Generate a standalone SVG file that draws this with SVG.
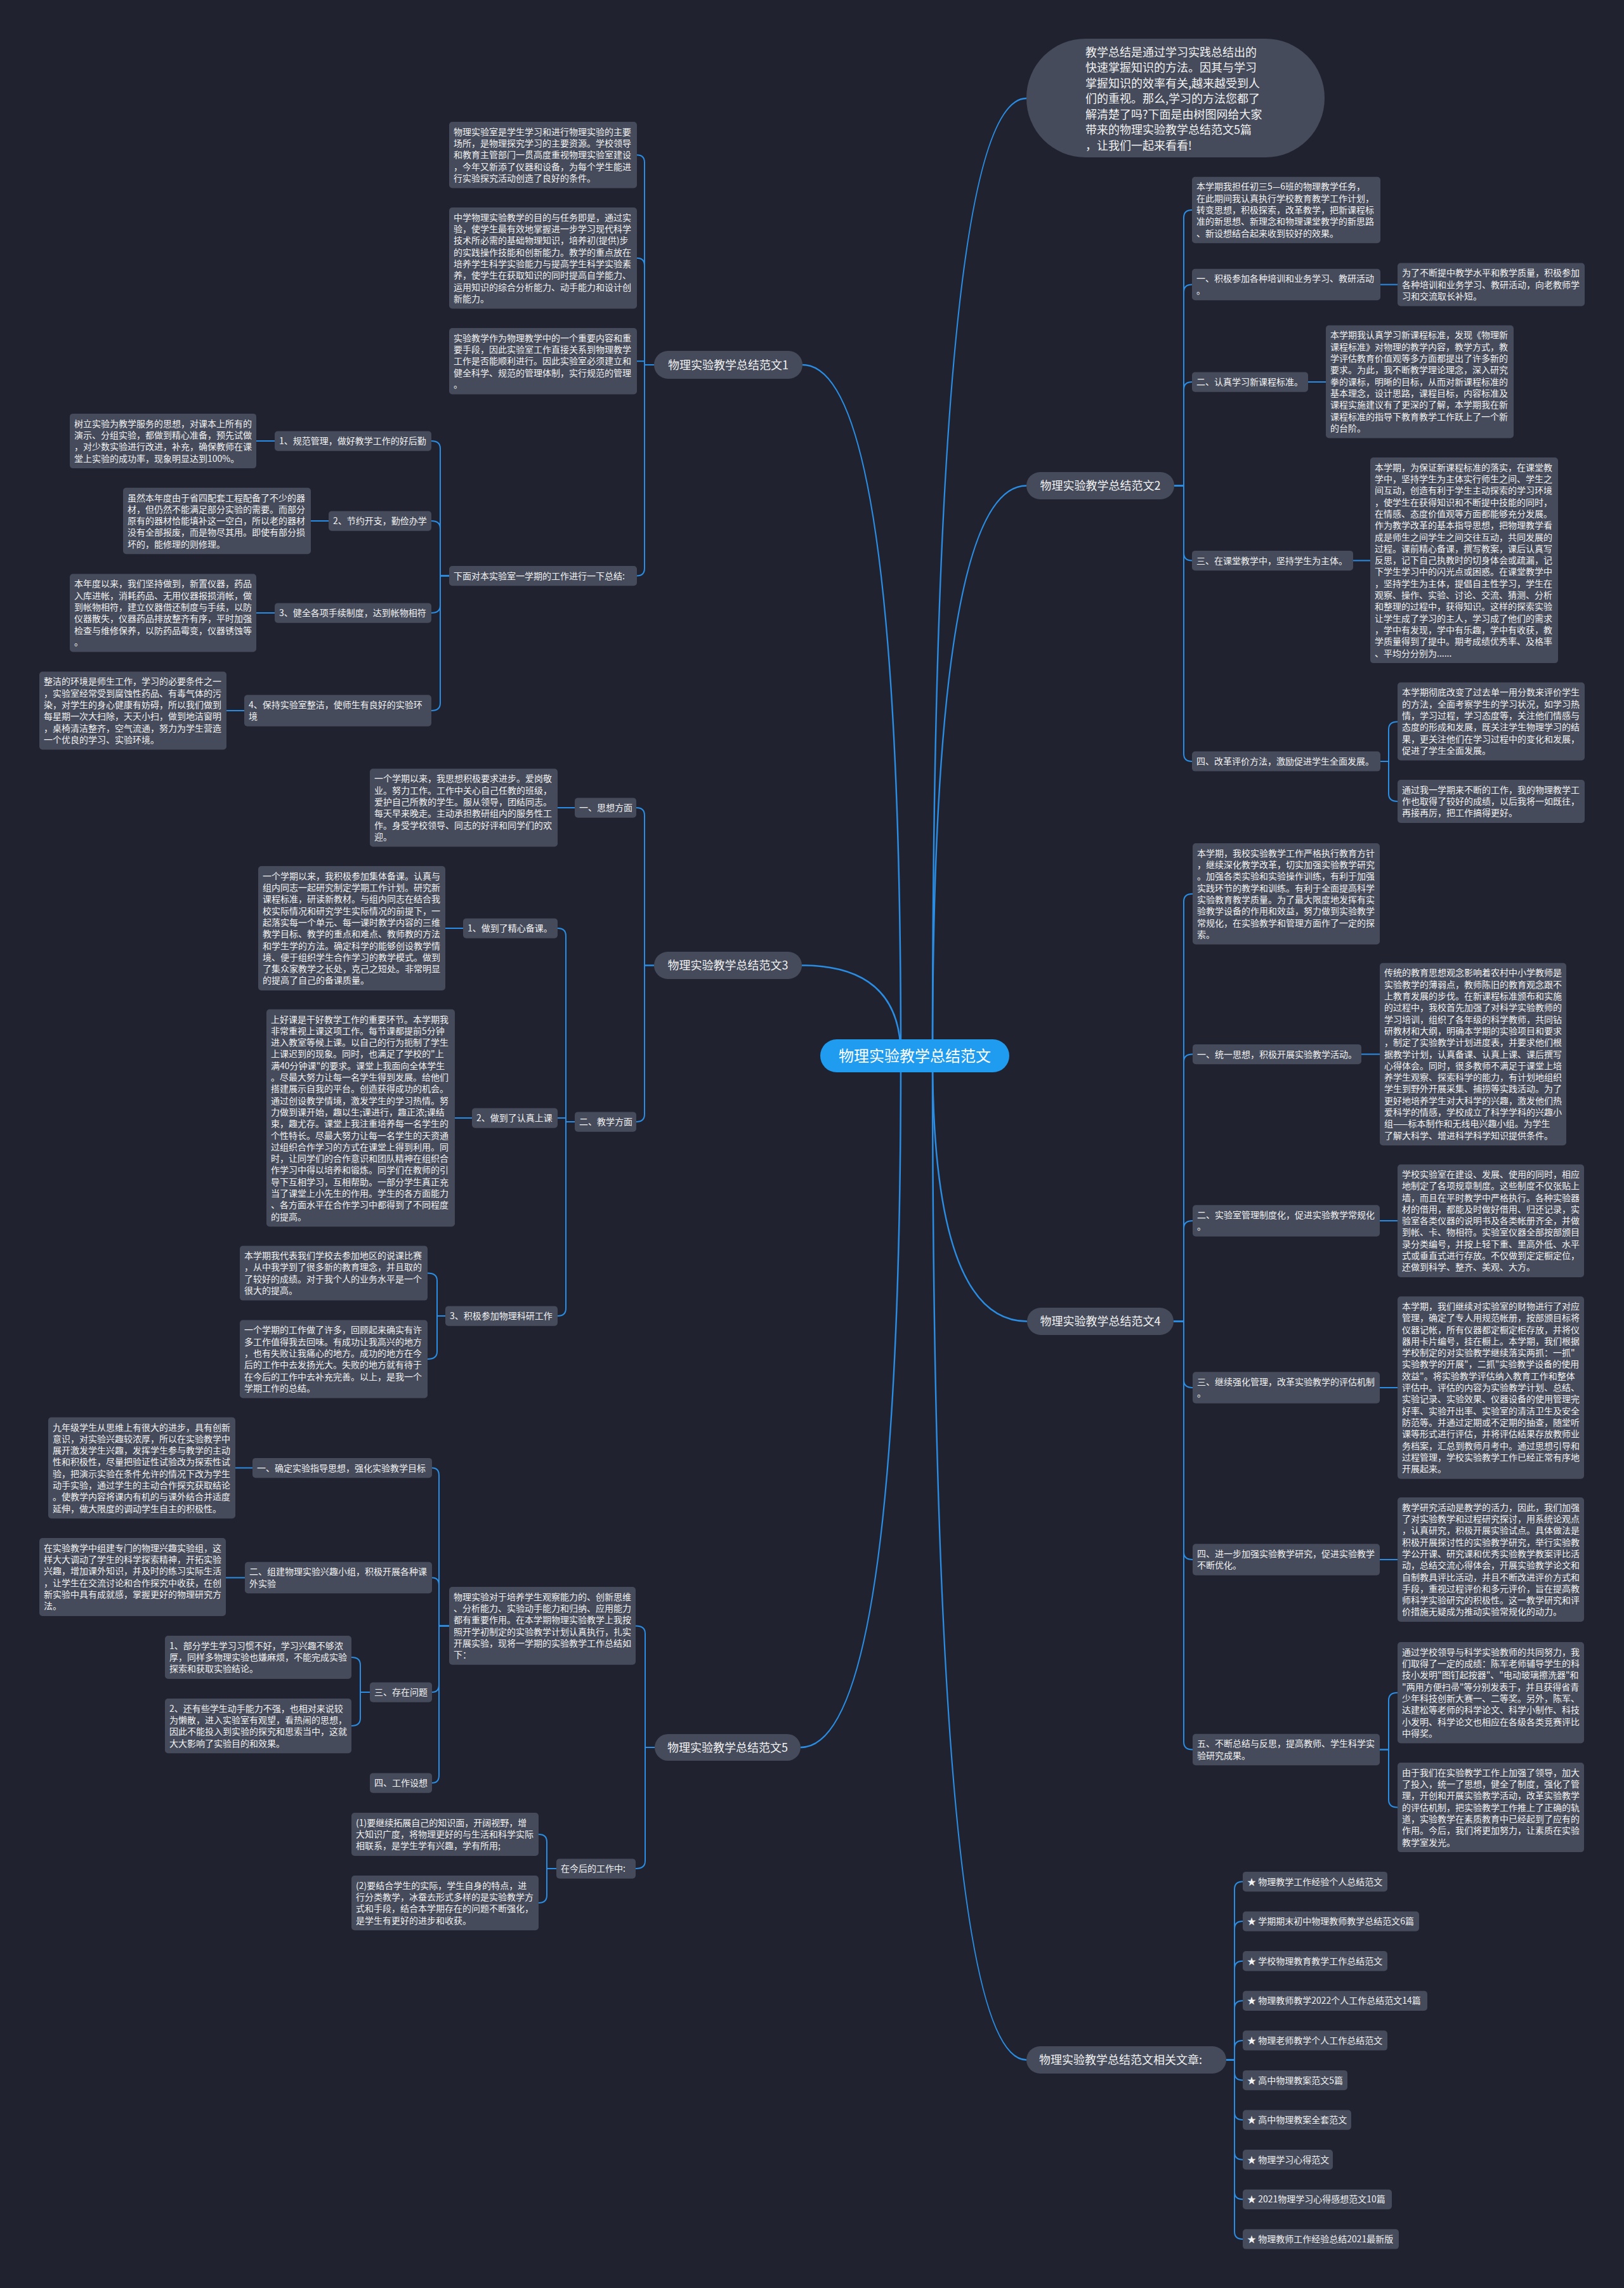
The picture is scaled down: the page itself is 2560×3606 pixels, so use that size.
<svg xmlns="http://www.w3.org/2000/svg" width="2560" height="3606" viewBox="0 0 2560 3606">
<style>
.bg{fill:#20232f}
.box{fill:#454b5b}
.pill{fill:#454b5b}
.t{font-family:"Noto Sans CJK SC","Noto Sans",sans-serif;font-size:14px;fill:#f2f2f2}
.lt{font-family:"Noto Sans CJK SC","Noto Sans",sans-serif;font-size:18px;fill:#f2f2f2;text-anchor:middle}
.it{font-family:"Noto Sans CJK SC","Noto Sans",sans-serif;font-size:18px;fill:#f2f2f2}
.ct{font-family:"Noto Sans CJK SC","Noto Sans",sans-serif;font-size:24px;fill:#ffffff;text-anchor:middle}
.ln{fill:none;stroke:#2a8de3;stroke-width:2}
.mn{fill:none;stroke:#2a8de3;stroke-width:2.5}
</style>
<rect class="bg" x="0" y="0" width="2560" height="3606"/>

<g id="connectors">
<path class="mn" d="M1420,1664 Q1420,575 1265,575"/>
<path class="mn" d="M1420,1664 Q1420,1521.5 1264,1521.5"/>
<path class="mn" d="M1420,1664 Q1420,2754 1262,2754"/>
<path class="mn" d="M1470,1664 Q1470,155 1618,155"/>
<path class="mn" d="M1470,1664 Q1470,765.5 1618,765.5"/>
<path class="mn" d="M1470,1664 Q1470,2082.5 1619,2082.5"/>
<path class="mn" d="M1470,1664 Q1470,3246.5 1618,3246.5"/>

<path class="ln" d="M1031,575 H1016 V256.2 Q1016,244.2 1004,244.2"/>
<path class="ln" d="M1031,575 H1016 V418.7 Q1016,406.7 1004,406.7"/>
<path class="ln" d="M1031,575 H1016 V569.2 H1004"/>
<path class="ln" d="M1031,575 H1016 V895.6 Q1016,907.6 1004,907.6"/>
<path class="ln" d="M708,907.6 H694 V707 Q694,695 680,695"/>
<path class="ln" d="M708,907.6 H694 V833 Q694,821 680,821"/>
<path class="ln" d="M708,907.6 H694 V954 Q694,966 680,966"/>
<path class="ln" d="M708,907.6 H694 V1108 Q694,1120 680,1120"/>
<path class="ln" d="M433,695 H404"/>
<path class="ln" d="M518,821 H490"/>
<path class="ln" d="M433,966 H404"/>
<path class="ln" d="M385,1120 H357"/>

<path class="ln" d="M1851,765.5 H1866 V343 Q1866,331 1879,331"/>
<path class="ln" d="M1851,765.5 H1866 V460.5 Q1866,448.5 1879,448.5"/>
<path class="ln" d="M1851,765.5 H1866 V614 Q1866,602 1879,602"/>
<path class="ln" d="M1851,765.5 H1866 V871.5 Q1866,883.5 1879,883.5"/>
<path class="ln" d="M1851,765.5 H1866 V1188 Q1866,1200 1879,1200"/>
<path class="ln" d="M2176,448.5 H2203"/>
<path class="ln" d="M2062,602 H2090"/>
<path class="ln" d="M2133,883.5 H2160"/>
<path class="ln" d="M2176,1200 H2189 V1149.4 Q2189,1137.4 2203,1137.4"/>
<path class="ln" d="M2176,1200 H2189 V1251 Q2189,1263 2203,1263"/>

<path class="ln" d="M1031,1521.5 H1016 V1285 Q1016,1273 1003,1273"/>
<path class="ln" d="M1031,1521.5 H1016 V1756 Q1016,1768 1003,1768"/>
<path class="ln" d="M906,1273 H879"/>
<path class="ln" d="M906,1768 H892 V1475 Q892,1463 879,1463"/>
<path class="ln" d="M906,1768 H892 V1762 H879"/>
<path class="ln" d="M906,1768 H892 V2062 Q892,2074 879,2074"/>
<path class="ln" d="M730,1463 H702"/>
<path class="ln" d="M744,1762 H717"/>
<path class="ln" d="M702,2074 H689 V2018.5 Q689,2006.5 674,2006.5"/>
<path class="ln" d="M702,2074 H689 V2130 Q689,2142 674,2142"/>

<path class="ln" d="M1850,2082.5 H1866 V1420.7 Q1866,1408.7 1880,1408.7"/>
<path class="ln" d="M1850,2082.5 H1866 V1673.5 Q1866,1661.5 1880,1661.5"/>
<path class="ln" d="M1850,2082.5 H1866 V1936 Q1866,1924 1880,1924"/>
<path class="ln" d="M1850,2082.5 H1866 V2175 Q1866,2187 1880,2187"/>
<path class="ln" d="M1850,2082.5 H1866 V2446 Q1866,2458 1880,2458"/>
<path class="ln" d="M1850,2082.5 H1866 V2745.5 Q1866,2757.5 1880,2757.5"/>
<path class="ln" d="M2146,1661.5 H2175"/>
<path class="ln" d="M2175,1924 H2203"/>
<path class="ln" d="M2175,2187 H2203"/>
<path class="ln" d="M2175,2458 H2203"/>
<path class="ln" d="M2175,2757.5 H2189 V2679.7 Q2189,2667.7 2203,2667.7"/>
<path class="ln" d="M2175,2757.5 H2189 V2836.5 Q2189,2848.5 2203,2848.5"/>

<path class="ln" d="M1032,2754 H1017 V2574.4 Q1017,2562.4 1002,2562.4"/>
<path class="ln" d="M1032,2754 H1017 V2933 Q1017,2945 1002,2945"/>
<path class="ln" d="M708,2562.4 H692 V2325.5 Q692,2313.5 681,2313.5"/>
<path class="ln" d="M708,2562.4 H692 V2498.5 Q692,2486.5 681,2486.5"/>
<path class="ln" d="M708,2562.4 H692 V2655 Q692,2667 681,2667"/>
<path class="ln" d="M708,2562.4 H692 V2798 Q692,2810 681,2810"/>
<path class="ln" d="M398,2313.5 H371"/>
<path class="ln" d="M386,2486.5 H356"/>
<path class="ln" d="M583,2667 H568 V2624 Q568,2612 554,2612"/>
<path class="ln" d="M583,2667 H568 V2708 Q568,2720 554,2720"/>
<path class="ln" d="M877,2945 H862 V2903 Q862,2891 849,2891"/>
<path class="ln" d="M877,2945 H862 V2987 Q862,2999 849,2999"/>

<path class="ln" d="M1933,3246.5 H1946 V2977.5 Q1946,2965.5 1959,2965.5"/>
<path class="ln" d="M1933,3246.5 H1946 V3040.1 Q1946,3028.1 1959,3028.1"/>
<path class="ln" d="M1933,3246.5 H1946 V3102.7 Q1946,3090.7 1959,3090.7"/>
<path class="ln" d="M1933,3246.5 H1946 V3165.3 Q1946,3153.3 1959,3153.3"/>
<path class="ln" d="M1933,3246.5 H1946 V3227.9 Q1946,3215.9 1959,3215.9"/>
<path class="ln" d="M1933,3246.5 H1946 V3266.5 Q1946,3278.5 1959,3278.5"/>
<path class="ln" d="M1933,3246.5 H1946 V3329.1 Q1946,3341.1 1959,3341.1"/>
<path class="ln" d="M1933,3246.5 H1946 V3391.7 Q1946,3403.7 1959,3403.7"/>
<path class="ln" d="M1933,3246.5 H1946 V3454.3 Q1946,3466.3 1959,3466.3"/>
<path class="ln" d="M1933,3246.5 H1946 V3516.9 Q1946,3528.9 1959,3528.9"/>
</g>

<g id="center">
<rect x="1293" y="1638" width="298" height="52" rx="26" fill="#1f9bf0"/>
<text class="ct" x="1442" y="1672.5">物理实验教学总结范文</text>
</g>

<g id="intro">
<rect class="pill" x="1618" y="61" width="470" height="187" rx="93"/>
<text class="it"><tspan x="1711" y="88.5">教学总结是通过学习实践总结出的</tspan><tspan x="1711" y="113">快速掌握知识的方法。因其与学习</tspan><tspan x="1711" y="137.5">掌握知识的效率有关,越来越受到人</tspan><tspan x="1711" y="162">们的重视。那么,学习的方法您都了</tspan><tspan x="1711" y="186.5">解清楚了吗?下面是由树图网给大家</tspan><tspan x="1711" y="211">带来的物理实验教学总结范文5篇</tspan><tspan x="1711" y="235.5">，让我们一起来看看!</tspan></text>
</g>

<!-- Branch 1 -->
<g id="b1">
<rect class="pill" x="1031" y="553" width="234" height="44" rx="22"/>
<text class="lt" x="1148" y="581.5">物理实验教学总结范文1</text>
</g>
<g id="b1-n1">
<rect class="box" x="708" y="192" width="296" height="104.5" rx="5"/>
<text class="t"><tspan x="715" y="212.7">物理实验室是学生学习和进行物理实验的主要</tspan><tspan x="715" y="231">场所，是物理探究学习的主要资源。学校领导</tspan><tspan x="715" y="249.3">和教育主管部门一贯高度重视物理实验室建设</tspan><tspan x="715" y="267.6">，今年又新添了仪器和设备，为每个学生能进</tspan><tspan x="715" y="285.9">行实验探究活动创造了良好的条件。</tspan></text>
</g>
<g id="b1-n2">
<rect class="box" x="708" y="327" width="296" height="159.4" rx="5"/>
<text class="t"><tspan x="715" y="347.7">中学物理实验教学的目的与任务即是，通过实</tspan><tspan x="715" y="366">验，使学生最有效地掌握进一步学习现代科学</tspan><tspan x="715" y="384.3">技术所必需的基础物理知识，培养初(提供)步</tspan><tspan x="715" y="402.6">的实践操作技能和创新能力。教学的重点放在</tspan><tspan x="715" y="420.9">培养学生科学实验能力与提高学生科学实验素</tspan><tspan x="715" y="439.2">养，使学生在获取知识的同时提高自学能力、</tspan><tspan x="715" y="457.5">运用知识的综合分析能力、动手能力和设计创</tspan><tspan x="715" y="475.8">新能力。</tspan></text>
</g>
<g id="b1-n3">
<rect class="box" x="708" y="517" width="296" height="104.5" rx="5"/>
<text class="t"><tspan x="715" y="537.7">实验教学作为物理教学中的一个重要内容和重</tspan><tspan x="715" y="556">要手段，因此实验室工作直接关系到物理教学</tspan><tspan x="715" y="574.3">工作是否能顺利进行。因此实验室必须建立和</tspan><tspan x="715" y="592.6">健全科学、规范的管理体制，实行规范的管理</tspan><tspan x="715" y="610.9">。</tspan></text>
</g>
<g id="b1-n4">
<rect class="box" x="708" y="892" width="296" height="31.3" rx="5"/>
<text class="t" x="715" y="912.7">下面对本实验室一学期的工作进行一下总结:</text>
</g>
<g id="b1-n4a">
<rect class="box" x="433" y="679.4" width="247" height="31.3" rx="5"/>
<text class="t" x="440" y="700.1">1、规范管理，做好教学工作的好后勤</text>
</g>
<g id="b1-n4b">
<rect class="box" x="518" y="805.4" width="162" height="31.3" rx="5"/>
<text class="t" x="525" y="826.1">2、节约开支，勤俭办学</text>
</g>
<g id="b1-n4c">
<rect class="box" x="433" y="950.4" width="247" height="31.3" rx="5"/>
<text class="t" x="440" y="971.1">3、健全各项手续制度，达到帐物相符</text>
</g>
<g id="b1-n4d">
<rect class="box" x="385" y="1095.2" width="295" height="49.6" rx="5"/>
<text class="t"><tspan x="392" y="1115.9">4、保持实验室整洁，使师生有良好的实验环</tspan><tspan x="392" y="1134.2">境</tspan></text>
</g>
<g id="b1-n4a1">
<rect class="box" x="110" y="651.9" width="294" height="86.2" rx="5"/>
<text class="t"><tspan x="117" y="672.6">树立实验为教学服务的思想，对课本上所有的</tspan><tspan x="117" y="690.9">演示、分组实验，都做到精心准备，预先试做</tspan><tspan x="117" y="709.2">，对少数实验进行改进，补充，确保教师在课</tspan><tspan x="117" y="727.5">堂上实验的成功率，现象明显达到100%。</tspan></text>
</g>
<g id="b1-n4b1">
<rect class="box" x="194" y="768.8" width="296" height="104.5" rx="5"/>
<text class="t"><tspan x="201" y="789.5">虽然本年度由于省四配套工程配备了不少的器</tspan><tspan x="201" y="807.8">材，但仍然不能满足部分实验的需要。而部分</tspan><tspan x="201" y="826.1">原有的器材恰能填补这一空白，所以老的器材</tspan><tspan x="201" y="844.4">没有全部报废，而是物尽其用。即使有部分损</tspan><tspan x="201" y="862.7">坏的，能修理的则修理。</tspan></text>
</g>
<g id="b1-n4c1">
<rect class="box" x="110" y="904.6" width="294" height="122.8" rx="5"/>
<text class="t"><tspan x="117" y="925.3">本年度以来，我们坚持做到，新置仪器，药品</tspan><tspan x="117" y="943.6">入库进帐，消耗药品、无用仪器报损消帐，做</tspan><tspan x="117" y="961.9">到帐物相符，建立仪器借还制度与手续，以防</tspan><tspan x="117" y="980.2">仪器散失，仪器药品排放整齐有序，平时加强</tspan><tspan x="117" y="998.5">检查与维修保养，以防药品霉变，仪器锈蚀等</tspan><tspan x="117" y="1016.8">。</tspan></text>
</g>
<g id="b1-n4d1">
<rect class="box" x="62" y="1058.6" width="295" height="122.8" rx="5"/>
<text class="t"><tspan x="69" y="1079.3">整洁的环境是师生工作，学习的必要条件之一</tspan><tspan x="69" y="1097.6">，实验室经常受到腐蚀性药品、有毒气体的污</tspan><tspan x="69" y="1115.9">染，对学生的身心健康有妨碍，所以我们做到</tspan><tspan x="69" y="1134.2">每星期一次大扫除，天天小扫，做到地洁窗明</tspan><tspan x="69" y="1152.5">，桌椅清洁整齐，空气流通，努力为学生营造</tspan><tspan x="69" y="1170.8">一个优良的学习、实验环境。</tspan></text>
</g>

<!-- Branch 2 -->
<g id="b2">
<rect class="pill" x="1618" y="744" width="233" height="43" rx="21.5"/>
<text class="lt" x="1734.5" y="772">物理实验教学总结范文2</text>
</g>
<g id="b2-n1">
<rect class="box" x="1879" y="278.7" width="297" height="104.5" rx="5"/>
<text class="t"><tspan x="1886" y="299.4">本学期我担任初三5—6班的物理教学任务，</tspan><tspan x="1886" y="317.7">在此期间我认真执行学校教育教学工作计划，</tspan><tspan x="1886" y="336">转变思想，积极探索，改革教学，把新课程标</tspan><tspan x="1886" y="354.3">准的新思想、新理念和物理课堂教学的新思路</tspan><tspan x="1886" y="372.6">、新设想结合起来收到较好的效果。</tspan></text>
</g>
<g id="b2-n2">
<rect class="box" x="1879" y="423.7" width="297" height="49.6" rx="5"/>
<text class="t"><tspan x="1886" y="444.4">一、积极参加各种培训和业务学习、教研活动</tspan><tspan x="1886" y="462.7">。</tspan></text>
</g>
<g id="b2-n2a">
<rect class="box" x="2203" y="414.5" width="295" height="67.9" rx="5"/>
<text class="t"><tspan x="2210" y="435.2">为了不断提中教学水平和教学质量，积极参加</tspan><tspan x="2210" y="453.5">各种培训和业务学习、教研活动，向老教师学</tspan><tspan x="2210" y="471.8">习和交流取长补短。</tspan></text>
</g>
<g id="b2-n3">
<rect class="box" x="1879" y="586.4" width="183" height="31.3" rx="5"/>
<text class="t" x="1886" y="607.1">二、认真学习新课程标准。</text>
</g>
<g id="b2-n3a">
<rect class="box" x="2090" y="512.7" width="296" height="177.7" rx="5"/>
<text class="t"><tspan x="2097" y="533.4">本学期我认真学习新课程标准，发现《物理新</tspan><tspan x="2097" y="551.7">课程标准》对物理的教学内容，教学方式，教</tspan><tspan x="2097" y="570">学评估教育价值观等多方面都提出了许多新的</tspan><tspan x="2097" y="588.3">要求。为此，我不断教学理论理念，深入研究</tspan><tspan x="2097" y="606.6">拳的课标，明晰的目标，从而对新课程标准的</tspan><tspan x="2097" y="624.9">基本理念，设计思路，课程目标，内容标准及</tspan><tspan x="2097" y="643.2">课程实施建议有了更深的了解，本学期我在新</tspan><tspan x="2097" y="661.5">课程标准的指导下教育教学工作跃上了一个新</tspan><tspan x="2097" y="679.8">的台阶。</tspan></text>
</g>
<g id="b2-n4">
<rect class="box" x="1879" y="867.9" width="254" height="31.3" rx="5"/>
<text class="t" x="1886" y="888.6">三、在课堂教学中，坚持学生为主体。</text>
</g>
<g id="b2-n4a">
<rect class="box" x="2160" y="721" width="296" height="324.1" rx="5"/>
<text class="t"><tspan x="2167" y="741.7">本学期，为保证新课程标准的落实，在课堂教</tspan><tspan x="2167" y="760">学中，坚持学生为主体实行师生之间、学生之</tspan><tspan x="2167" y="778.3">间互动，创造有利于学生主动探索的学习环境</tspan><tspan x="2167" y="796.6">，使学生在获得知识和不断提中技能的同时，</tspan><tspan x="2167" y="814.9">在情感、态度价值观等方面都能够充分发展。</tspan><tspan x="2167" y="833.2">作为教学改革的基本指导思想，把物理教学看</tspan><tspan x="2167" y="851.5">成是师生之间学生之间交往互动，共同发展的</tspan><tspan x="2167" y="869.8">过程。课前精心备课，撰写教案，课后认真写</tspan><tspan x="2167" y="888.1">反思，记下自己执教时的切身体会或疏漏，记</tspan><tspan x="2167" y="906.4">下学生学习中的闪光点或困惑。在课堂教学中</tspan><tspan x="2167" y="924.7">，坚持学生为主体，提倡自主性学习，学生在</tspan><tspan x="2167" y="943">观察、操作、实验、讨论、交流、猜测、分析</tspan><tspan x="2167" y="961.3">和整理的过程中，获得知识。这样的探索实验</tspan><tspan x="2167" y="979.6">让学生成了学习的主人，学习成了他们的需求</tspan><tspan x="2167" y="997.9">，学中有发现，学中有乐趣，学中有收获，教</tspan><tspan x="2167" y="1016.2">学质量得到了提中。期考成绩优秀率、及格率</tspan><tspan x="2167" y="1034.5">、平均分分别为......</tspan></text>
</g>
<g id="b2-n5">
<rect class="box" x="1879" y="1184.3" width="297" height="31.3" rx="5"/>
<text class="t" x="1886" y="1205">四、改革评价方法，激励促进学生全面发展。</text>
</g>
<g id="b2-n5a">
<rect class="box" x="2203" y="1075.6" width="295" height="122.8" rx="5"/>
<text class="t"><tspan x="2210" y="1096.3">本学期彻底改变了过去单一用分数来评价学生</tspan><tspan x="2210" y="1114.6">的方法，全面考察学生的学习状况，如学习热</tspan><tspan x="2210" y="1132.9">情，学习过程，学习态度等，关注他们情感与</tspan><tspan x="2210" y="1151.2">态度的形成和发展，既关注学生物理学习的结</tspan><tspan x="2210" y="1169.5">果，更关注他们在学习过程中的变化和发展，</tspan><tspan x="2210" y="1187.8">促进了学生全面发展。</tspan></text>
</g>
<g id="b2-n5b">
<rect class="box" x="2203" y="1229" width="295" height="67.9" rx="5"/>
<text class="t"><tspan x="2210" y="1249.7">通过我一学期来不断的工作，我的物理教学工</tspan><tspan x="2210" y="1268">作也取得了较好的成绩，以后我将一如既往，</tspan><tspan x="2210" y="1286.3">再接再厉，把工作搞得更好。</tspan></text>
</g>

<!-- Branch 3 -->
<g id="b3">
<rect class="pill" x="1031" y="1500" width="233" height="43" rx="21.5"/>
<text class="lt" x="1147.5" y="1528">物理实验教学总结范文3</text>
</g>
<g id="b3-n1">
<rect class="box" x="906" y="1257.4" width="97" height="31.3" rx="5"/>
<text class="t" x="913" y="1278.1">一、思想方面</text>
</g>
<g id="b3-n1a">
<rect class="box" x="583" y="1211.6" width="296" height="122.8" rx="5"/>
<text class="t"><tspan x="590" y="1232.3">一个学期以来，我思想积极要求进步。爱岗敬</tspan><tspan x="590" y="1250.6">业。努力工作。工作中关心自己任教的班级，</tspan><tspan x="590" y="1268.9">爱护自己所教的学生。服从领导，团结同志。</tspan><tspan x="590" y="1287.2">每天早来晚走。主动承担教研组内的服务性工</tspan><tspan x="590" y="1305.5">作。身受学校领导、同志的好评和同学们的欢</tspan><tspan x="590" y="1323.8">迎。</tspan></text>
</g>
<g id="b3-n2">
<rect class="box" x="906" y="1752.4" width="97" height="31.3" rx="5"/>
<text class="t" x="913" y="1773.1">二、教学方面</text>
</g>
<g id="b3-n2a">
<rect class="box" x="730" y="1447.4" width="149" height="31.3" rx="5"/>
<text class="t" x="737" y="1468.1">1、做到了精心备课。</text>
</g>
<g id="b3-n2a1">
<rect class="box" x="407" y="1365" width="295" height="196" rx="5"/>
<text class="t"><tspan x="414" y="1385.7">一个学期以来，我积极参加集体备课。认真与</tspan><tspan x="414" y="1404">组内同志一起研究制定学期工作计划。研究新</tspan><tspan x="414" y="1422.3">课程标准，研读新教材。与组内同志在结合我</tspan><tspan x="414" y="1440.6">校实际情况和研究学生实际情况的前提下，一</tspan><tspan x="414" y="1458.9">起落实每一个单元、每一课时教学内容的三维</tspan><tspan x="414" y="1477.2">教学目标、教学的重点和难点、教师教的方法</tspan><tspan x="414" y="1495.5">和学生学的方法。确定科学的能够创设教学情</tspan><tspan x="414" y="1513.8">境、便于组织学生合作学习的教学模式。做到</tspan><tspan x="414" y="1532.1">了集众家教学之长处，克己之短处。非常明显</tspan><tspan x="414" y="1550.4">的提高了自己的备课质量。</tspan></text>
</g>
<g id="b3-n2b">
<rect class="box" x="744" y="1746.4" width="135" height="31.3" rx="5"/>
<text class="t" x="751" y="1767.1">2、做到了认真上课</text>
</g>
<g id="b3-n2b1">
<rect class="box" x="420" y="1590.8" width="297" height="342.4" rx="5"/>
<text class="t"><tspan x="427" y="1611.5">上好课是干好教学工作的重要环节。本学期我</tspan><tspan x="427" y="1629.8">非常重视上课这项工作。每节课都提前5分钟</tspan><tspan x="427" y="1648.1">进入教室等候上课。以自己的行为扼制了学生</tspan><tspan x="427" y="1666.4">上课迟到的现象。同时，也满足了学校的"上</tspan><tspan x="427" y="1684.7">满40分钟课"的要求。课堂上我面向全体学生</tspan><tspan x="427" y="1703">。尽最大努力让每一名学生得到发展。给他们</tspan><tspan x="427" y="1721.3">搭建展示自我的平台。创造获得成功的机会。</tspan><tspan x="427" y="1739.6">通过创设教学情境，激发学生的学习热情。努</tspan><tspan x="427" y="1757.9">力做到课开始，趣以生;课进行，趣正浓;课结</tspan><tspan x="427" y="1776.2">束，趣尤存。课堂上我注重培养每一名学生的</tspan><tspan x="427" y="1794.5">个性特长。尽最大努力让每一名学生的天资通</tspan><tspan x="427" y="1812.8">过组织合作学习的方式在课堂上得到利用。同</tspan><tspan x="427" y="1831.1">时，让同学们的合作意识和团队精神在组织合</tspan><tspan x="427" y="1849.4">作学习中得以培养和锻炼。同学们在教师的引</tspan><tspan x="427" y="1867.7">导下互相学习，互相帮助。一部分学生真正充</tspan><tspan x="427" y="1886">当了课堂上小先生的作用。学生的各方面能力</tspan><tspan x="427" y="1904.3">、各方面水平在合作学习中都得到了不同程度</tspan><tspan x="427" y="1922.6">的提高。</tspan></text>
</g>
<g id="b3-n2c">
<rect class="box" x="702" y="2058.4" width="177" height="31.3" rx="5"/>
<text class="t" x="709" y="2079.1">3、积极参加物理科研工作</text>
</g>
<g id="b3-n2c1">
<rect class="box" x="378" y="1963.4" width="296" height="86.2" rx="5"/>
<text class="t"><tspan x="385" y="1984.1">本学期我代表我们学校去参加地区的说课比赛</tspan><tspan x="385" y="2002.4">，从中我学到了很多新的教育理念，并且取的</tspan><tspan x="385" y="2020.7">了较好的成绩。对于我个人的业务水平是一个</tspan><tspan x="385" y="2039">很大的提高。</tspan></text>
</g>
<g id="b3-n2c2">
<rect class="box" x="378" y="2080.6" width="296" height="122.8" rx="5"/>
<text class="t"><tspan x="385" y="2101.3">一个学期的工作做了许多，回顾起来确实有许</tspan><tspan x="385" y="2119.6">多工作值得我去回味。有成功让我高兴的地方</tspan><tspan x="385" y="2137.9">，也有失败让我痛心的地方。成功的地方在今</tspan><tspan x="385" y="2156.2">后的工作中去发扬光大。失败的地方就有待于</tspan><tspan x="385" y="2174.5">在今后的工作中去补充完善。以上，是我一个</tspan><tspan x="385" y="2192.8">学期工作的总结。</tspan></text>
</g>

<!-- Branch 4 -->
<g id="b4">
<rect class="pill" x="1619" y="2061" width="231" height="43" rx="21.5"/>
<text class="lt" x="1734.5" y="2089">物理实验教学总结范文4</text>
</g>
<g id="b4-n0">
<rect class="box" x="1880" y="1329" width="295" height="159.4" rx="5"/>
<text class="t"><tspan x="1887" y="1349.7">本学期，我校实验教学工作严格执行教育方针</tspan><tspan x="1887" y="1368">，继续深化教学改革，切实加强实验教学研究</tspan><tspan x="1887" y="1386.3">。加强各类实验和实验操作训练，有利于加强</tspan><tspan x="1887" y="1404.6">实践环节的教学和训练。有利于全面提高科学</tspan><tspan x="1887" y="1422.9">实验教育教学质量。为了最大限度地发挥有实</tspan><tspan x="1887" y="1441.2">验教学设备的作用和效益，努力做到实验教学</tspan><tspan x="1887" y="1459.5">常规化，在实验教学和管理方面作了一定的探</tspan><tspan x="1887" y="1477.8">索。</tspan></text>
</g>
<g id="b4-n1">
<rect class="box" x="1880" y="1645.9" width="266" height="31.3" rx="5"/>
<text class="t" x="1887" y="1666.6">一、统一思想，积极开展实验教学活动。</text>
</g>
<g id="b4-n1a">
<rect class="box" x="2175" y="1517.7" width="294" height="287.5" rx="5"/>
<text class="t"><tspan x="2182" y="1538.4">传统的教育思想观念影响着农村中小学教师是</tspan><tspan x="2182" y="1556.7">实验教学的薄弱点，教师陈旧的教育观念跟不</tspan><tspan x="2182" y="1575">上教育发展的步伐。在新课程标准颁布和实施</tspan><tspan x="2182" y="1593.3">的过程中，我校首先加强了对科学实验教师的</tspan><tspan x="2182" y="1611.6">学习培训，组织了各年级的科学教师，共同钻</tspan><tspan x="2182" y="1629.9">研教材和大纲，明确本学期的实验项目和要求</tspan><tspan x="2182" y="1648.2">，制定了实验教学计划进度表，并要求他们根</tspan><tspan x="2182" y="1666.5">据教学计划，认真备课、认真上课、课后撰写</tspan><tspan x="2182" y="1684.8">心得体会。同时，很多教师不满足于课堂上培</tspan><tspan x="2182" y="1703.1">养学生观察、探索科学的能力，有计划地组织</tspan><tspan x="2182" y="1721.4">学生到野外开展采集、捕捞等实践活动。为了</tspan><tspan x="2182" y="1739.7">更好地培养学生对大科学的兴趣，激发他们热</tspan><tspan x="2182" y="1758">爱科学的情感，学校成立了科学学科的兴趣小</tspan><tspan x="2182" y="1776.3">组——标本制作和无线电兴趣小组。为学生</tspan><tspan x="2182" y="1794.6">了解大科学、增进科学科学知识提供条件。</tspan></text>
</g>
<g id="b4-n2">
<rect class="box" x="1880" y="1899.2" width="295" height="49.6" rx="5"/>
<text class="t"><tspan x="1887" y="1919.9">二、实验室管理制度化，促进实验教学常规化</tspan><tspan x="1887" y="1938.2">。</tspan></text>
</g>
<g id="b4-n2a">
<rect class="box" x="2203" y="1835.2" width="294" height="177.7" rx="5"/>
<text class="t"><tspan x="2210" y="1855.9">学校实验室在建设、发展、使用的同时，相应</tspan><tspan x="2210" y="1874.2">地制定了各项规章制度。这些制度不仅张贴上</tspan><tspan x="2210" y="1892.5">墙，而且在平时教学中严格执行。各种实验器</tspan><tspan x="2210" y="1910.8">材的借用，都能及时做好借用、归还记录，实</tspan><tspan x="2210" y="1929.1">验室各类仪器的说明书及各类帐册齐全，并做</tspan><tspan x="2210" y="1947.4">到帐、卡、物相符。实验室仪器全部按部颁目</tspan><tspan x="2210" y="1965.7">录分类编号，并按上轻下重、里高外低、水平</tspan><tspan x="2210" y="1984">式或垂直式进行存放。不仅做到定定橱定位，</tspan><tspan x="2210" y="2002.3">还做到科学、整齐、美观、大方。</tspan></text>
</g>
<g id="b4-n3">
<rect class="box" x="1880" y="2162.2" width="295" height="49.6" rx="5"/>
<text class="t"><tspan x="1887" y="2182.9">三、继续强化管理，改革实验教学的评估机制</tspan><tspan x="1887" y="2201.2">。</tspan></text>
</g>
<g id="b4-n3a">
<rect class="box" x="2203" y="2043.2" width="294" height="287.5" rx="5"/>
<text class="t"><tspan x="2210" y="2063.9">本学期，我们继续对实验室的财物进行了对应</tspan><tspan x="2210" y="2082.2">管理，确定了专人用规范帐册，按部颁目标将</tspan><tspan x="2210" y="2100.5">仪器记帐，所有仪器都定橱定柜存放，并将仪</tspan><tspan x="2210" y="2118.8">器用卡片编号，挂在橱上。本学期，我们根据</tspan><tspan x="2210" y="2137.1">学校制定的对实验教学继续落实两抓：一抓"</tspan><tspan x="2210" y="2155.4">实验教学的开展"，二抓"实验教学设备的使用</tspan><tspan x="2210" y="2173.7">效益"。将实验教学评估纳入教育工作和整体</tspan><tspan x="2210" y="2192">评估中。评估的内容为实验教学计划、总结、</tspan><tspan x="2210" y="2210.3">实验记录、实验效果、仪器设备的使用管理完</tspan><tspan x="2210" y="2228.6">好率、实验开出率、实验室的清洁卫生及安全</tspan><tspan x="2210" y="2246.9">防范等。并通过定期或不定期的抽查，随堂听</tspan><tspan x="2210" y="2265.2">课等形式进行评估，并将评估结果存放教师业</tspan><tspan x="2210" y="2283.5">务档案，汇总到教师月考中。通过思想引导和</tspan><tspan x="2210" y="2301.8">过程管理，学校实验教学工作已经正常有序地</tspan><tspan x="2210" y="2320.1">开展起来。</tspan></text>
</g>
<g id="b4-n4">
<rect class="box" x="1880" y="2433.2" width="295" height="49.6" rx="5"/>
<text class="t"><tspan x="1887" y="2453.9">四、进一步加强实验教学研究，促进实验教学</tspan><tspan x="1887" y="2472.2">不断优化。</tspan></text>
</g>
<g id="b4-n4a">
<rect class="box" x="2203" y="2360" width="294" height="196" rx="5"/>
<text class="t"><tspan x="2210" y="2380.7">教学研究活动是教学的活力，因此，我们加强</tspan><tspan x="2210" y="2399">了对实验教学和过程研究探讨，用系统论观点</tspan><tspan x="2210" y="2417.3">，认真研究，积极开展实验试点。具体做法是</tspan><tspan x="2210" y="2435.6">积极开展探讨性的实验教学研究，举行实验教</tspan><tspan x="2210" y="2453.9">学公开课、研究课和优秀实验教学教案评比活</tspan><tspan x="2210" y="2472.2">动，总结交流心得体会，开展实验教学论文和</tspan><tspan x="2210" y="2490.5">自制教具评比活动，并且不断改进评价方式和</tspan><tspan x="2210" y="2508.8">手段，重视过程评价和多元评价，旨在提高教</tspan><tspan x="2210" y="2527.1">师科学实验研究的积极性。这一教学研究和评</tspan><tspan x="2210" y="2545.4">价措施无疑成为推动实验常规化的动力。</tspan></text>
</g>
<g id="b4-n5">
<rect class="box" x="1880" y="2732.7" width="295" height="49.6" rx="5"/>
<text class="t"><tspan x="1887" y="2753.4">五、不断总结与反思，提高教师、学生科学实</tspan><tspan x="1887" y="2771.7">验研究成果。</tspan></text>
</g>
<g id="b4-n5a">
<rect class="box" x="2203" y="2588" width="294" height="159.4" rx="5"/>
<text class="t"><tspan x="2210" y="2608.7">通过学校领导与科学实验教师的共同努力，我</tspan><tspan x="2210" y="2627">们取得了一定的成绩：陈军老师辅导学生的科</tspan><tspan x="2210" y="2645.3">技小发明"图钉起按器"、"电动玻璃擦洗器"和</tspan><tspan x="2210" y="2663.6">"两用方便扫帚"等分别发表于，并且获得省青</tspan><tspan x="2210" y="2681.9">少年科技创新大赛一、二等奖。另外，陈军、</tspan><tspan x="2210" y="2700.2">达建松等老师的科学论文、科学小制作、科技</tspan><tspan x="2210" y="2718.5">小发明、科学论文也相应在各级各类竞赛评比</tspan><tspan x="2210" y="2736.8">中得奖。</tspan></text>
</g>
<g id="b4-n5b">
<rect class="box" x="2203" y="2778" width="294" height="141.1" rx="5"/>
<text class="t"><tspan x="2210" y="2798.7">由于我们在实验教学工作上加强了领导，加大</tspan><tspan x="2210" y="2817">了投入，统一了思想，健全了制度，强化了管</tspan><tspan x="2210" y="2835.3">理，开创和开展实验教学活动，改革实验教学</tspan><tspan x="2210" y="2853.6">的评估机制，把实验教学工作推上了正确的轨</tspan><tspan x="2210" y="2871.9">道，实验教学在素质教育中已经起到了应有的</tspan><tspan x="2210" y="2890.2">作用。今后，我们将更加努力，让素质在实验</tspan><tspan x="2210" y="2908.5">教学室发光。</tspan></text>
</g>

<!-- Branch 5 -->
<g id="b5">
<rect class="pill" x="1032" y="2733" width="230" height="42" rx="21"/>
<text class="lt" x="1147" y="2760.5">物理实验教学总结范文5</text>
</g>
<g id="b5-n1">
<rect class="box" x="708" y="2501" width="294" height="122.8" rx="5"/>
<text class="t"><tspan x="715" y="2521.7">物理实验对于培养学生观察能力的、创新思维</tspan><tspan x="715" y="2540">、分析能力、实验动手能力和归纳、应用能力</tspan><tspan x="715" y="2558.3">都有重要作用。在本学期物理实验教学上我按</tspan><tspan x="715" y="2576.6">照开学初制定的实验教学计划认真执行，扎实</tspan><tspan x="715" y="2594.9">开展实验，现将一学期的实验教学工作总结如</tspan><tspan x="715" y="2613.2">下：</tspan></text>
</g>
<g id="b5-n1a">
<rect class="box" x="398" y="2297.9" width="283" height="31.3" rx="5"/>
<text class="t" x="405" y="2318.6">一、确定实验指导思想，强化实验教学目标</text>
</g>
<g id="b5-n1a1">
<rect class="box" x="76" y="2233.8" width="295" height="159.4" rx="5"/>
<text class="t"><tspan x="83" y="2254.5">九年级学生从思维上有很大的进步，具有创新</tspan><tspan x="83" y="2272.8">意识，对实验兴趣较浓厚，所以在实验教学中</tspan><tspan x="83" y="2291.1">展开激发学生兴趣，发挥学生参与教学的主动</tspan><tspan x="83" y="2309.4">性和积极性，尽量把验证性试验改为探索性试</tspan><tspan x="83" y="2327.7">验，把演示实验在条件允许的情况下改为学生</tspan><tspan x="83" y="2346">动手实验，通过学生的主动合作探究获取结论</tspan><tspan x="83" y="2364.3">。使教学内容将课内有机的与课外结合并适度</tspan><tspan x="83" y="2382.6">延伸，做大限度的调动学生自主的积极性。</tspan></text>
</g>
<g id="b5-n1b">
<rect class="box" x="386" y="2461.7" width="295" height="49.6" rx="5"/>
<text class="t"><tspan x="393" y="2482.4">二、组建物理实验兴趣小组，积极开展各种课</tspan><tspan x="393" y="2500.7">外实验</tspan></text>
</g>
<g id="b5-n1b1">
<rect class="box" x="62" y="2424.1" width="294" height="122.8" rx="5"/>
<text class="t"><tspan x="69" y="2444.8">在实验教学中组建专门的物理兴趣实验组，这</tspan><tspan x="69" y="2463.1">样大大调动了学生的科学探索精神，开拓实验</tspan><tspan x="69" y="2481.4">兴趣，增加课外知识，并及时的练习实际生活</tspan><tspan x="69" y="2499.7">，让学生在交流讨论和合作探究中收获，在创</tspan><tspan x="69" y="2518">新实验中具有成就感，掌握更好的物理研究方</tspan><tspan x="69" y="2536.3">法。</tspan></text>
</g>
<g id="b5-n1c">
<rect class="box" x="583" y="2651.4" width="98" height="31.3" rx="5"/>
<text class="t" x="590" y="2672.1">三、存在问题</text>
</g>
<g id="b5-n1c1">
<rect class="box" x="260" y="2578" width="294" height="67.9" rx="5"/>
<text class="t"><tspan x="267" y="2598.7">1、部分学生学习习惯不好，学习兴趣不够浓</tspan><tspan x="267" y="2617">厚，同样多物理实验也嫌麻烦，不能完成实验</tspan><tspan x="267" y="2635.3">探索和获取实验结论。</tspan></text>
</g>
<g id="b5-n1c2">
<rect class="box" x="260" y="2677" width="294" height="86.2" rx="5"/>
<text class="t"><tspan x="267" y="2697.7">2、还有些学生动手能力不强，也相对来说较</tspan><tspan x="267" y="2716">为懒散，进入实验室有观望，看热闹的思想，</tspan><tspan x="267" y="2734.3">因此不能投入到实验的探究和思索当中，这就</tspan><tspan x="267" y="2752.6">大大影响了实验目的和效果。</tspan></text>
</g>
<g id="b5-n1d">
<rect class="box" x="583" y="2794.4" width="98" height="31.3" rx="5"/>
<text class="t" x="590" y="2815.1">四、工作设想</text>
</g>
<g id="b5-n2">
<rect class="box" x="877" y="2929.4" width="125" height="31.3" rx="5"/>
<text class="t" x="884" y="2950.1">在今后的工作中:</text>
</g>
<g id="b5-n2a">
<rect class="box" x="554" y="2857" width="295" height="67.9" rx="5"/>
<text class="t"><tspan x="561" y="2877.7">(1)要继续拓展自己的知识面，开阔视野，增</tspan><tspan x="561" y="2896">大知识广度，将物理更好的与生活和科学实际</tspan><tspan x="561" y="2914.3">相联系，是学生学有兴趣，学有所用;</tspan></text>
</g>
<g id="b5-n2b">
<rect class="box" x="554" y="2956" width="295" height="86.2" rx="5"/>
<text class="t"><tspan x="561" y="2976.7">(2)要结合学生的实际，学生自身的特点，进</tspan><tspan x="561" y="2995">行分类教学，冰蚕去形式多样的是实验教学方</tspan><tspan x="561" y="3013.3">式和手段，结合本学期存在的问题不断强化，</tspan><tspan x="561" y="3031.6">是学生有更好的进步和收获。</tspan></text>
</g>

<!-- Related -->
<g id="rel">
<rect class="pill" x="1618" y="3225" width="315" height="43" rx="21.5"/>
<text class="it" x="1638" y="3253">物理实验教学总结范文相关文章:</text>
</g>
<g id="rel-1"><rect class="box" x="1959" y="2949.9" width="228" height="31.3" rx="5"/><text class="t" x="1966" y="2970.5">★ 物理教学工作经验个人总结范文</text></g>
<g id="rel-2"><rect class="box" x="1959" y="3012.5" width="278" height="31.3" rx="5"/><text class="t" x="1966" y="3033.1">★ 学期期末初中物理教师教学总结范文6篇</text></g>
<g id="rel-3"><rect class="box" x="1959" y="3075.1" width="228" height="31.3" rx="5"/><text class="t" x="1966" y="3095.7">★ 学校物理教育教学工作总结范文</text></g>
<g id="rel-4"><rect class="box" x="1959" y="3137.7" width="291" height="31.3" rx="5"/><text class="t" x="1966" y="3158.3">★ 物理教师教学2022个人工作总结范文14篇</text></g>
<g id="rel-5"><rect class="box" x="1959" y="3200.3" width="228" height="31.3" rx="5"/><text class="t" x="1966" y="3220.9">★ 物理老师教学个人工作总结范文</text></g>
<g id="rel-6"><rect class="box" x="1959" y="3262.9" width="165" height="31.3" rx="5"/><text class="t" x="1966" y="3283.5">★ 高中物理教案范文5篇</text></g>
<g id="rel-7"><rect class="box" x="1959" y="3325.5" width="171" height="31.3" rx="5"/><text class="t" x="1966" y="3346.1">★ 高中物理教案全套范文</text></g>
<g id="rel-8"><rect class="box" x="1959" y="3388.1" width="142" height="31.3" rx="5"/><text class="t" x="1966" y="3408.7">★ 物理学习心得范文</text></g>
<g id="rel-9"><rect class="box" x="1959" y="3450.7" width="235" height="31.3" rx="5"/><text class="t" x="1966" y="3471.3">★ 2021物理学习心得感想范文10篇</text></g>
<g id="rel-10"><rect class="box" x="1959" y="3513.3" width="246" height="31.3" rx="5"/><text class="t" x="1966" y="3533.9">★ 物理教师工作经验总结2021最新版</text></g>
</svg>
